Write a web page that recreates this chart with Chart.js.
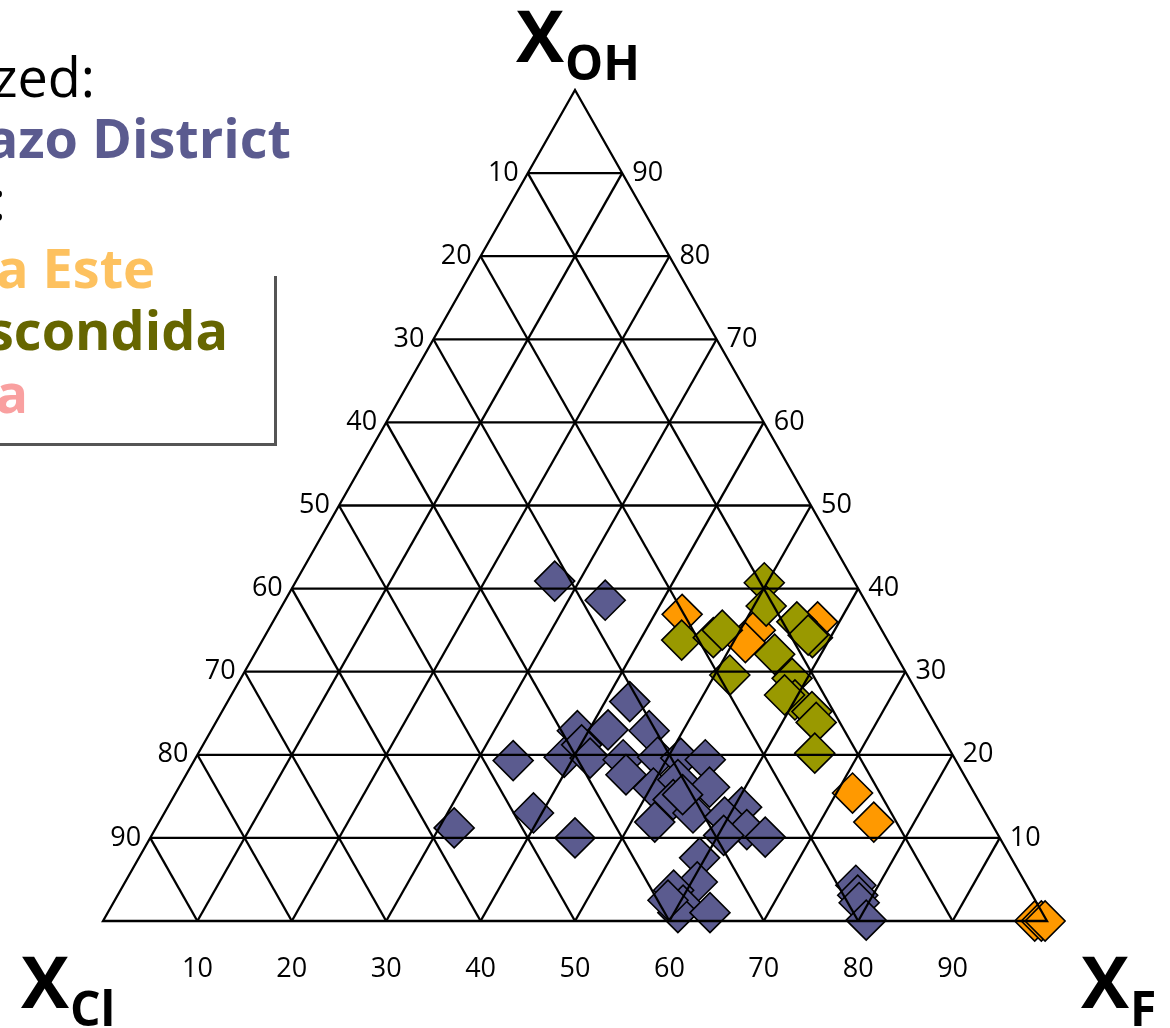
<!DOCTYPE html>
<html>
<head>
<meta charset="utf-8">
<script src="https://cdn.jsdelivr.net/npm/chart.js@4.4.1/dist/chart.umd.min.js"></script>
<style>
  html, body { margin: 0; padding: 0; background: #ffffff; overflow: hidden; }
  canvas { display: block; }
</style>
</head>
<body>
<canvas id="ternary" width="1170" height="1028" style="width:1170px;height:1028px"></canvas>
<script>
// Ternary grid steps (percent) used for grid lines and tick labels
const gridSteps = [10, 20, 30, 40, 50, 60, 70, 80, 90];
const tickLabels = ['10', '20', '30', '40', '50', '60', '70', '80', '90'];

// Compositions in mol % : X_F and X_OH (X_Cl is the remainder to 100)
const chimborazoF  = [27.4, 33.9, 42.6, 38.8, 42.0, 46.4, 33.8, 39.0, 40.1, 41.8, 45.4, 46.6, 48.9, 50.3,
                      51.4, 54.1, 52.4, 56.2, 53.1, 56.0, 52.5, 60.8, 59.6, 62.7, 65.1, 60.6, 59.4, 60.6,
                      58.6, 60.5, 60.4, 63.8, 39.1, 45.0, 31.6, 77.6, 78.4, 79.0, 80.8, 53.8, 58.6];
const chimborazoOH = [40.9, 38.6, 26.4, 22.9, 23.0, 22.9, 19.3, 19.7, 21.2, 19.6, 19.4, 17.6, 19.7, 16.0,
                      19.6, 19.4, 17.0, 16.1, 14.6, 13.0, 11.9, 13.7, 12.5, 11.0, 10.1, 10.3,  7.6,  4.7,
                       3.7,  1.9,  1.0,  1.0, 13.0, 10.0, 11.2,  4.3,  3.1,  2.2,  0.1, 15.2,  2.5];

const escondidaEsteF  = [42.9, 51.6, 51.3, 57.7, 71.7, 75.7, 98.7, 99.4, 99.8];
const escondidaEsteOH = [36.9, 35.0, 33.5, 36.0, 15.4, 11.9,  0.0,  0.0,  0.0];

const escondidaF  = [49.7, 51.3, 44.4, 47.6, 48.1, 51.6, 55.5, 58.1, 57.5, 55.1, 58.4, 60.0, 62.5, 63.6, 65.3, 58.6];
const escondidaOH = [40.7, 37.9, 33.8, 34.1, 35.0, 29.6, 36.0, 34.1, 34.4, 32.1, 29.2, 26.6, 25.2, 23.9, 20.2, 27.2];

// Legend lines (text, colour, weight)
const legendLines = [
  { text: 'Analyzed:',           color: '#000000', bold: false },
  { text: 'Chimborazo District', color: '#5b5b8f', bold: true  },
  { text: 'Literature:',         color: '#000000', bold: false },
  { text: 'Escondida Este',      color: '#fdc15f', bold: true  },
  { text: 'La Escondida',        color: '#666600', bold: true  },
  { text: 'Chuquicamata',        color: '#f9a0a0', bold: true  }
];

// Cartesian projection of a (F, OH) composition on the equilateral layout
function toXY(F, OH) {
  return F.map((f, i) => ({ x: f + OH[i] / 2, y: OH[i] }));
}

const FONT = "'Open Sans', 'Noto Sans', sans-serif";

const ternaryPlugin = {
  id: 'ternaryFrame',
  afterDatasetsDraw(chart) {
    const ctx = chart.ctx;
    const xs = chart.scales.x, ys = chart.scales.y;
    const P = (F, OH) => [xs.getPixelForValue(F + OH / 2), ys.getPixelForValue(OH)];

    ctx.save();
    ctx.strokeStyle = '#000000';
    ctx.lineWidth = 2.3;
    ctx.lineCap = 'butt';

    const line = (a, b) => {
      ctx.beginPath();
      ctx.moveTo(a[0], a[1]);
      ctx.lineTo(b[0], b[1]);
      ctx.stroke();
    };

    gridSteps.forEach(v => {
      // constant X_OH
      line(P(0, v), P(100 - v, v));
      // constant X_F
      line(P(v, 0), P(v, 100 - v));
      // constant X_Cl
      line(P(100 - v, 0), P(0, 100 - v));
    });

    // outer triangle
    const A = P(0, 0), B = P(100, 0), C = P(0, 100);
    ctx.beginPath();
    ctx.moveTo(A[0], A[1]);
    ctx.lineTo(B[0], B[1]);
    ctx.lineTo(C[0], C[1]);
    ctx.closePath();
    ctx.stroke();

    // tick labels
    ctx.fillStyle = '#000000';
    ctx.font = '27px ' + FONT;
    gridSteps.forEach((v, i) => {
      const lbl = tickLabels[i];
      // left side: X_Cl
      let p = P(0, 100 - v);
      ctx.textAlign = 'right'; ctx.textBaseline = 'middle';
      ctx.fillText(lbl, p[0] - 9, p[1]);
      // right side: X_OH
      p = P(100 - v, v);
      ctx.textAlign = 'left';
      ctx.fillText(lbl, p[0] + 10, p[1]);
      // bottom: X_F
      p = P(v, 0);
      ctx.textAlign = 'center';
      ctx.fillText(lbl, p[0], p[1] + 48);
    });

    // apex titles
    const title = (x, y, main, sub) => {
      ctx.textAlign = 'left'; ctx.textBaseline = 'alphabetic';
      ctx.font = 'bold 72px ' + FONT;
      ctx.fillText(main, x, y);
      const w = ctx.measureText(main).width;
      ctx.font = 'bold 48px ' + FONT;
      ctx.fillText(sub, x + w + 1, y + 18);
    };
    title(C[0] - 59, C[1] - 28, 'X', 'OH');
    title(A[0] - 82, A[1] + 87, 'X', 'Cl');
    title(B[0] + 34, B[1] + 87, 'X', 'F');

    ctx.restore();
  },
  afterDraw(chart) {
    const ctx = chart.ctx;
    ctx.save();
    // legend box (right and bottom edges)
    ctx.strokeStyle = '#555555';
    ctx.lineWidth = 3;
    ctx.beginPath();
    ctx.moveTo(275.5, 276);
    ctx.lineTo(275.5, 444.5);
    ctx.lineTo(-5, 444.5);
    ctx.stroke();

    const ends = [95, 291, 6, 155, 228, 28];
    const baselines = [97, 158, 220, 288, 350, 413];
    ctx.textAlign = 'right';
    ctx.textBaseline = 'alphabetic';
    legendLines.forEach((l, i) => {
      ctx.font = (l.bold ? 'bold ' : '') + '54px ' + FONT;
      ctx.fillStyle = l.color;
      ctx.fillText(l.text, ends[i], baselines[i]);
    });
    ctx.restore();
  }
};

const markerBase = {
  pointStyle: 'rectRot',
  pointRadius: 20,
  pointHoverRadius: 20,
  borderColor: '#000000',
  borderWidth: 1.6,
  clip: false,
  showLine: false
};

new Chart(document.getElementById('ternary'), {
  type: 'scatter',
  data: {
    datasets: [
      Object.assign({ label: 'La Escondida', data: toXY(escondidaF, escondidaOH), backgroundColor: '#999900' }, markerBase),
      Object.assign({ label: 'Escondida Este', data: toXY(escondidaEsteF, escondidaEsteOH), backgroundColor: '#ff9900' }, markerBase),
      Object.assign({ label: 'Chimborazo District', data: toXY(chimborazoF, chimborazoOH), backgroundColor: '#5b5b8f' }, markerBase)
    ]
  },
  options: {
    responsive: false,
    animation: false,
    devicePixelRatio: 1,
    events: [],
    layout: { padding: { left: 103, right: 123, top: 90, bottom: 107 } },
    scales: {
      x: { type: 'linear', min: 0, max: 100, display: false },
      y: { type: 'linear', min: 0, max: 100, display: false }
    },
    plugins: {
      legend: { display: false },
      tooltip: { enabled: false }
    }
  },
  plugins: [ternaryPlugin]
});
</script>
</body>
</html>
